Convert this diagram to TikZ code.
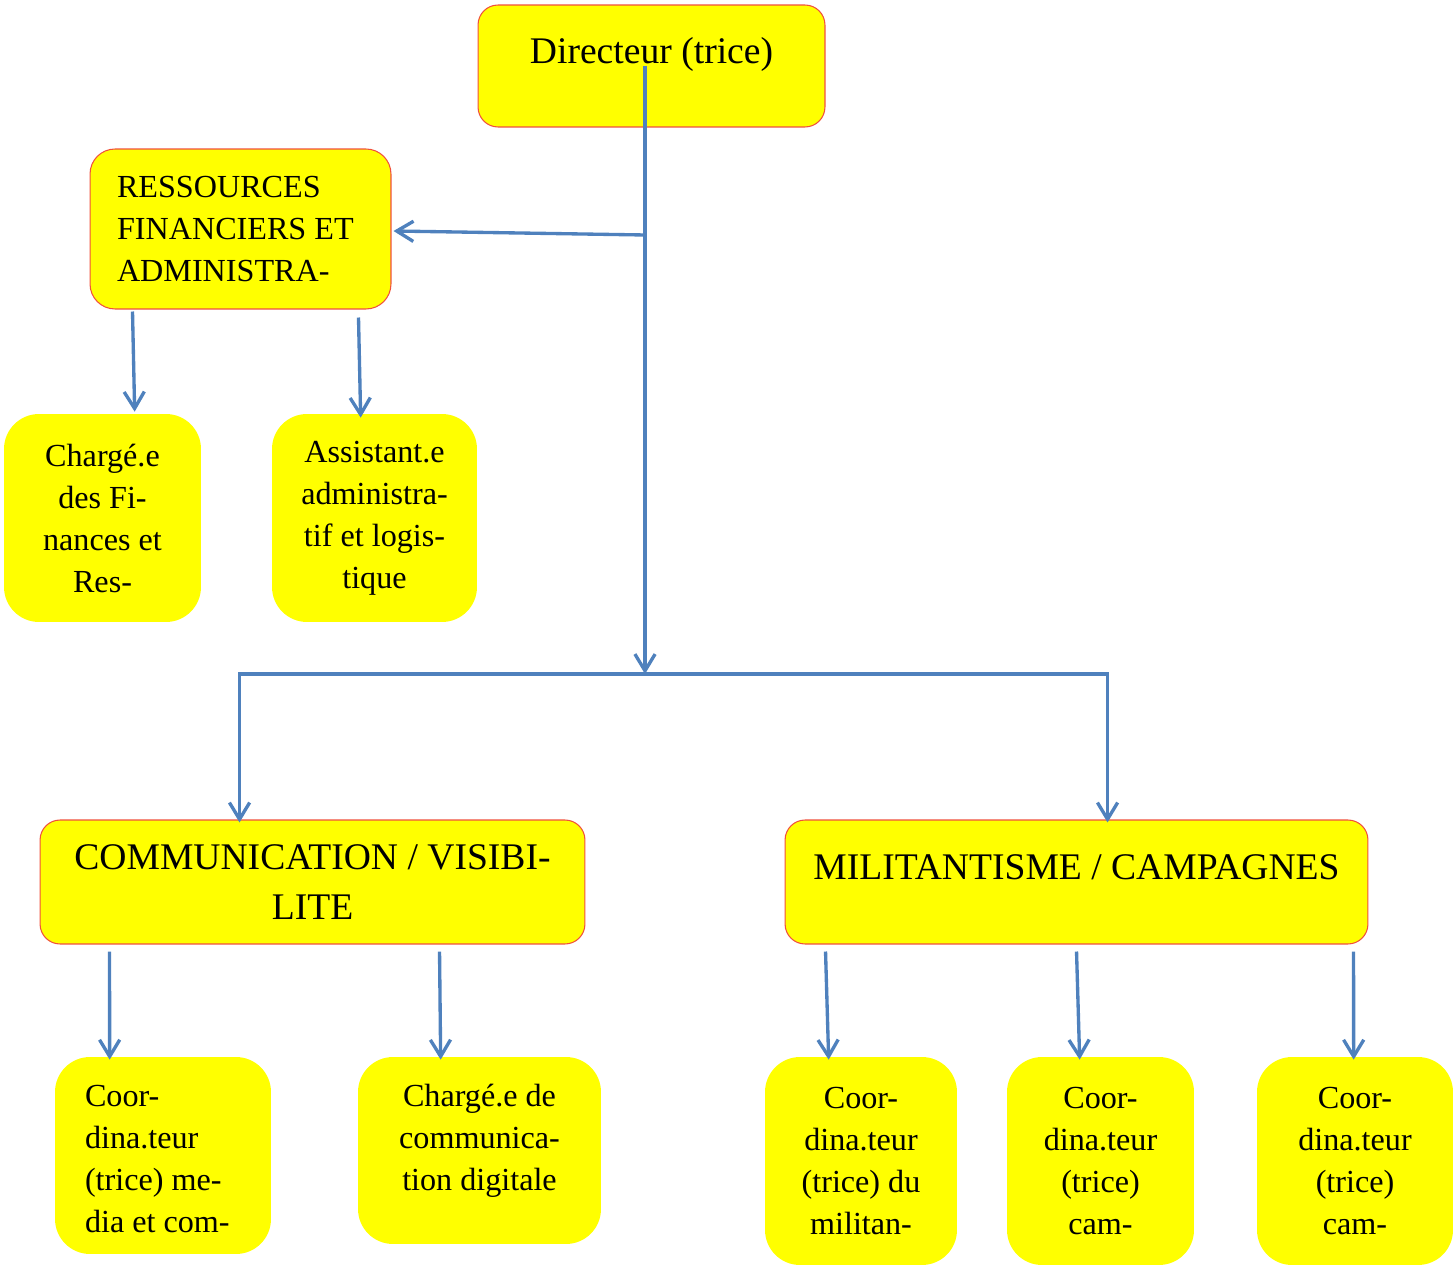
\documentclass[tikz,border=0pt]{standalone}
\usepackage{fontspec}
\setmainfont{Liberation Serif}
\usepackage{tikz}
\usetikzlibrary{arrows.meta}
\definecolor{boxyellow}{RGB}{255,255,0}
\definecolor{boxred}{RGB}{240,80,60}
\definecolor{linkblue}{RGB}{79,129,189}
\tikzstyle{unit} = [draw=boxred, line width=0.6pt, fill=boxyellow, rounded corners=0.4cm, inner sep=0pt, align=center, font=\fontsize{21.4pt}{28.5pt}\selectfont]
\tikzstyle{post} = [fill=boxyellow, rounded corners=0.7cm, inner sep=0pt, align=center, font=\fontsize{18.3pt}{23.9pt}\selectfont]
\tikzstyle{link} = [draw=linkblue, line width=1.9pt]

\begin{document}
\begin{tikzpicture}[x=0.02cm,y=-0.02cm,->,>={Straight Barb[length=9.5pt,width=11.5pt]}]
\useasboundingbox (0,0) rectangle (1453,1266);

% direction
\node[unit, minimum width=6.94cm, minimum height=2.44cm] (dir) at (651.5,66)
{Directeur (trice)\rule[-0.64cm]{0pt}{0pt}};
\node[unit, rounded corners=0.5cm, align=flush left, font=\fontsize{18.3pt}{23.9pt}\selectfont,
text width=4.94cm, inner xsep=0.54cm, minimum height=3.2cm] (res) at (240.5,229)
{RESSOURCES\\FINANCIERS ET\\ADMINISTRA-};
\node[post, minimum width=3.94cm, minimum height=4.16cm] (chfin) at (102.5,518)
{Chargé.e\\des Fi-\\nances et\\Res-};
\node[post, minimum width=4.1cm, minimum height=4.16cm] (assist) at (374.5,518)
{Assistant.e\\administra-\\tif et logis-\\tique};

% poles
\node[unit, minimum width=10.9cm, minimum height=2.48cm] (comm) at (312.5,882)
{COMMUNICATION / VISIBI-\\LITE};
\node[unit, minimum width=11.66cm, minimum height=2.48cm] (milit) at (1076.5,882)
{MILITANTISME / CAMPAGNES\rule[-0.6cm]{0pt}{0pt}};

% postes
\node[post, align=flush left, text width=3.12cm, inner xsep=0.6cm, minimum height=3.94cm] (coordmed) at (163,1155.5)
{\rule{0pt}{0.55cm}Coor-\\dina.teur\\(trice) me-\\dia et com-};
\node[post, minimum width=4.86cm, minimum height=3.74cm] (chcom) at (479.5,1150.5)
{Chargé.e de\\communica-\\tion digitale\rule[-0.54cm]{0pt}{0pt}};
\node[post, minimum width=3.84cm, minimum height=4.16cm] (coordmil) at (861,1161)
{Coor-\\dina.teur\\(trice) du\\militan-};
\node[post, minimum width=3.74cm, minimum height=4.16cm] (coordcam) at (1100.5,1161)
{Coor-\\dina.teur\\(trice)\\cam-};
\node[post, minimum width=3.92cm, minimum height=4.16cm] (coordcamb) at (1355,1161)
{Coor-\\dina.teur\\(trice)\\cam-};

\coordinate (j1) at (645,235);
\coordinate (j2) at (645,674);

\draw[link] (dir.center -| j1) -- (j2);
\draw[link] (j1) -- ([shift={(2,2)}]res.east);
\draw[link] (j2) -| ([shift={(200,3)}]comm.north west);
\draw[link] (j2) -| ([shift={(323,3)}]milit.north west);

\path
([shift={(43,2)}]res.south west) edge [link] ([shift={(131,-2)}]chfin.north west)
([shift={(269,8)}]res.south west) edge [link] ([shift={(89,4)}]assist.north west)
([shift={(70,7)}]comm.south west) edge [link] ([shift={(55,3)}]coordmed.north west)
([shift={(400,7)}]comm.south west) edge [link] ([shift={(83,3)}]chcom.north west)
([shift={(41,7)}]milit.south west) edge [link] ([shift={(64,3)}]coordmil.north west)
([shift={(292,7)}]milit.south west) edge [link] ([shift={(73,3)}]coordcam.north west)
([shift={(569,7)}]milit.south west) edge [link] ([shift={(97,3)}]coordcamb.north west);

\end{tikzpicture}
\end{document}
